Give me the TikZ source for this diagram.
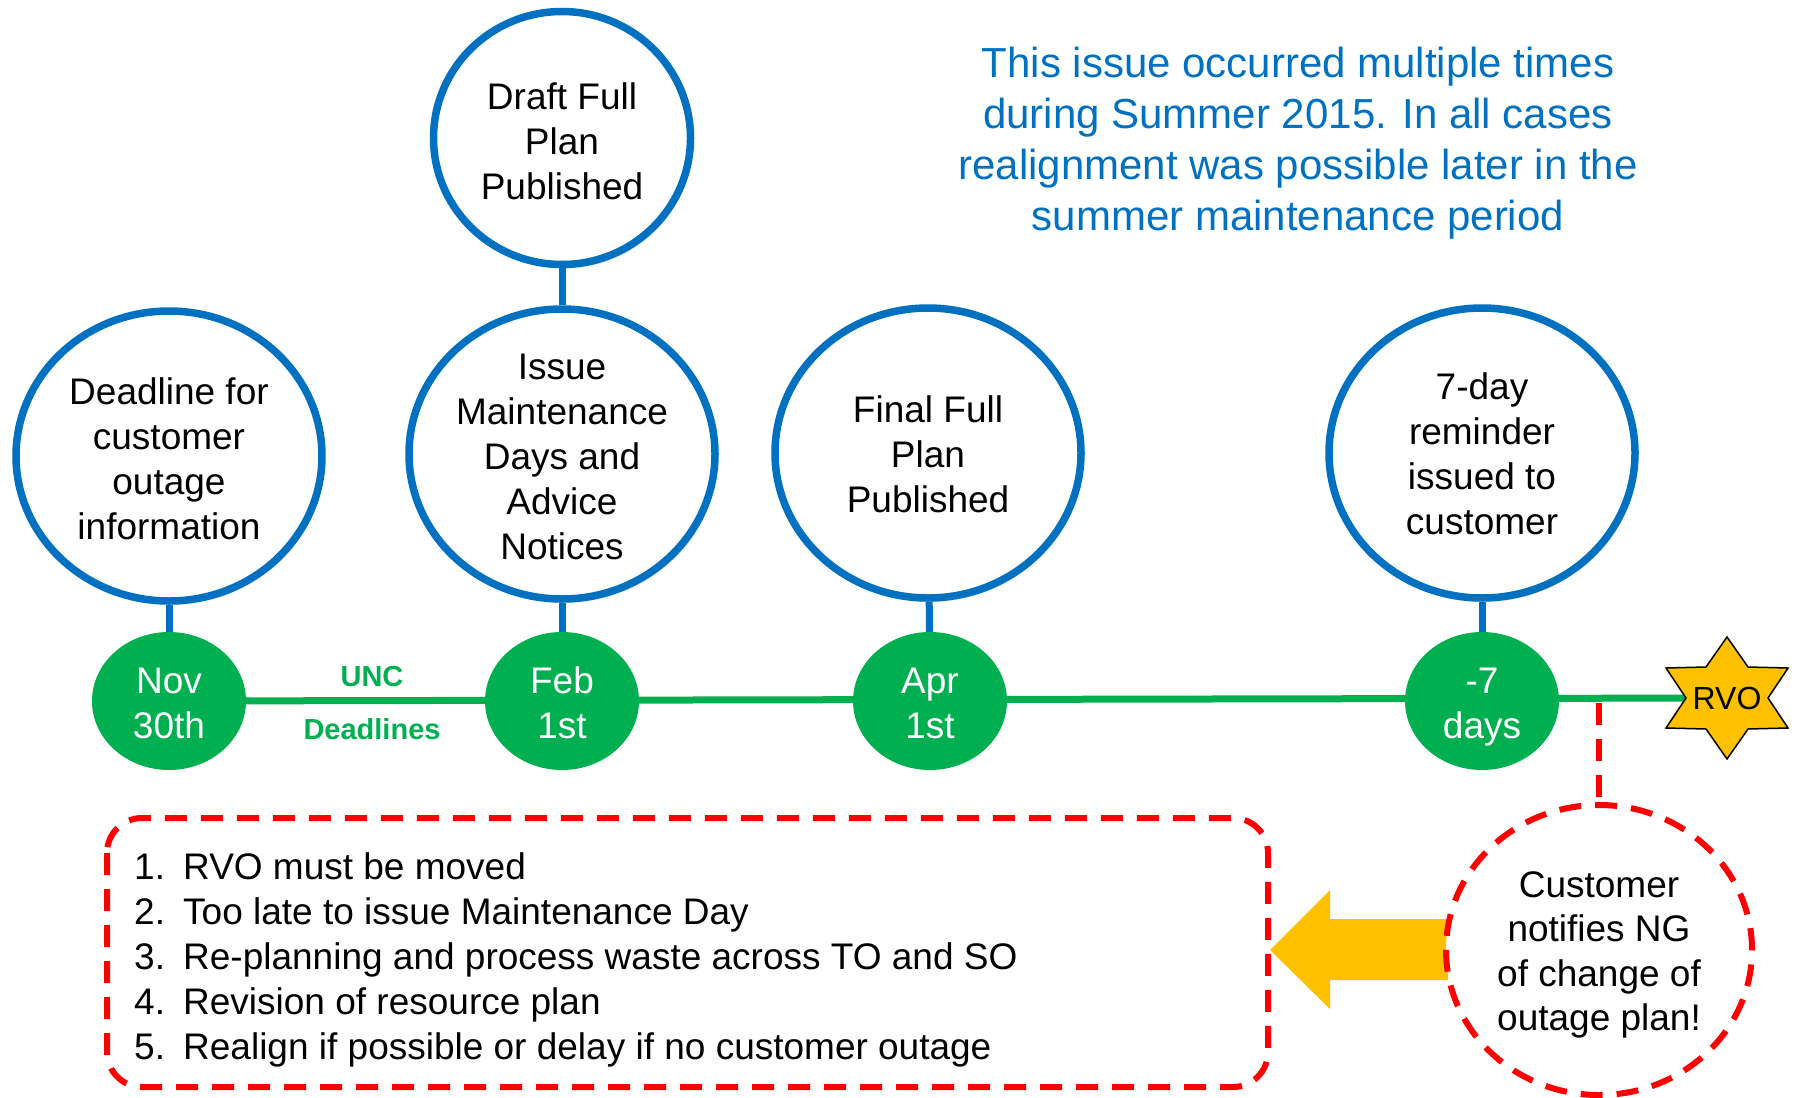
\documentclass[tikz,border=0pt]{standalone}
\usepackage{fontspec}
\setmainfont{Liberation Sans}
\usetikzlibrary{shapes.geometric,shadows,backgrounds}
\definecolor{ngblue}{HTML}{0070C0}
\definecolor{nggreen}{HTML}{00B050}
\definecolor{ngred}{HTML}{FF0000}
\definecolor{ngorange}{HTML}{FFC000}
\begin{document}
\begin{tikzpicture}[x=1pt,y=-1pt,
  font=\fontsize{37}{45}\selectfont,
  bigcirc/.style={ellipse, draw=ngblue, line width=7.5pt, fill=white, inner sep=0pt,
    minimum width=306pt, minimum height=290pt,
    drop shadow={shadow xshift=2pt, shadow yshift=-4pt, opacity=0.18}},
  bigtext/.style={align=center, inner sep=0pt},
  gcirc/.style={ellipse, fill=nggreen, inner sep=0pt,
    minimum width=154pt, minimum height=138pt},
  gtext/.style={align=center, inner sep=0pt, text=white},
  bline/.style={draw=ngblue, line width=7pt},
  gline/.style={draw=nggreen, line width=7pt},
  reddash/.style={draw=ngred, line width=6pt, dash pattern=on 22pt off 14pt},
  unc/.style={text=nggreen, font=\fontsize{29}{34}\selectfont\bfseries, inner sep=0pt}
]
\useasboundingbox (0,0) rectangle (1795,1097);

% big circles
\node[bigcirc] (dl) at (169,456) {};
\node[bigcirc, minimum width=257pt, minimum height=253pt] (draft) at (562,138) {};
\node[bigcirc] (issue) at (562,454) {};
\node[bigcirc] (final) at (928,453) {};
\node[bigcirc] (seven) at (1482,453) {};

\node[bigtext, yshift=-3pt] (dlt) at (dl.center) {Deadline for\\customer\\outage\\information};
\node[bigtext, yshift=-3pt] (draftt) at (draft.center) {Draft Full\\Plan\\Published};
\node[bigtext, yshift=-3pt] (issuet) at (issue.center) {Issue\\Maintenance\\Days and\\Advice\\Notices};
\node[bigtext, yshift=-1pt] (finalt) at (final.center) {Final Full\\Plan\\Published};
\node[bigtext, yshift=-1pt] (sevent) at (seven.center) {7-day\\reminder\\issued to\\customer};

% green date circles
\node[gcirc] (nov) at (169,701) {};
\node[gcirc] (feb) at (562,701) {};
\node[gcirc] (apr) at (930,701) {};
\node[gcirc] (days) at (1482,701) {};
\node[gtext, yshift=-2pt] (novt) at (nov.center) {Nov\\30th};
\node[gtext, yshift=-2pt] (febt) at (feb.center) {Feb\\1st};
\node[gtext, yshift=-2pt] (aprt) at (apr.center) {Apr\\1st};
\node[gtext, yshift=-6pt] (dayst) at (days.center) {-7\\days};

% blue connectors
\draw[bline] (dl) -- (nov);
\draw[bline] (draft) -- (issue);
\draw[bline] (issue) -- (feb);
\draw[bline] (final) -- (apr);
\draw[bline] (seven) -- (days);

% RVO star
\filldraw[fill=ngorange, draw=black, line width=1.5pt]
  (1727,637) -- (1748,667) -- (1788,668) -- (1768,698) -- (1788,728) -- (1748,729)
  -- (1727,759) -- (1706,729) -- (1666,728) -- (1686,698) -- (1666,668) -- (1706,667) -- cycle;
\node[inner sep=0pt, font=\fontsize{32}{38}\selectfont] (rvo) at (1727,698) {RVO};

% UNC deadlines labels
\node[unc] (uncl) at (372,677) {UNC};
\node[unc] (deadl) at (372,729) {Deadlines};

% top note
\node[text=ngblue, align=center, inner sep=0pt, font=\fontsize{42}{51}\selectfont] (note) at (1298,143.5)
  {This issue occurred multiple times\\during Summer 2015. In all cases\\realignment was possible later in the\\summer maintenance period};

% customer circle
\node[ellipse, reddash, fill=white, inner sep=0pt, minimum width=306pt, minimum height=290pt] (cust) at (1599,950) {};
\node[bigtext, yshift=-5pt, font=\fontsize{37}{44.5}\selectfont] (custt) at (cust.center) {Customer\\notifies NG\\of change of\\outage plan!};

% consequences box
\draw[reddash, rounded corners=35pt] (107,818) rectangle (1268,1087);
\node[anchor=west, align=left, inner sep=0pt] (list) at (134,960)
  {\makebox[49pt][l]{1.}RVO must be moved\\
   \makebox[49pt][l]{2.}Too late to issue Maintenance Day\\
   \makebox[49pt][l]{3.}Re-planning and process waste across TO and SO\\
   \makebox[49pt][l]{4.}Revision of resource plan\\
   \makebox[49pt][l]{5.}Realign if possible or delay if no customer outage};

\coordinate (tap) at (1599,703);
\begin{scope}[on background layer]
  \draw[gline] (nov.center) -- (rvo.center);
  \draw[reddash] (tap) -- (cust.north);
  \fill[ngorange] (1448,919) -- (1330,919) -- (1330,890) -- (1270,950)
     -- (1330,1009) -- (1330,980) -- (1448,980) -- cycle;
\end{scope}
\end{tikzpicture}
\end{document}
